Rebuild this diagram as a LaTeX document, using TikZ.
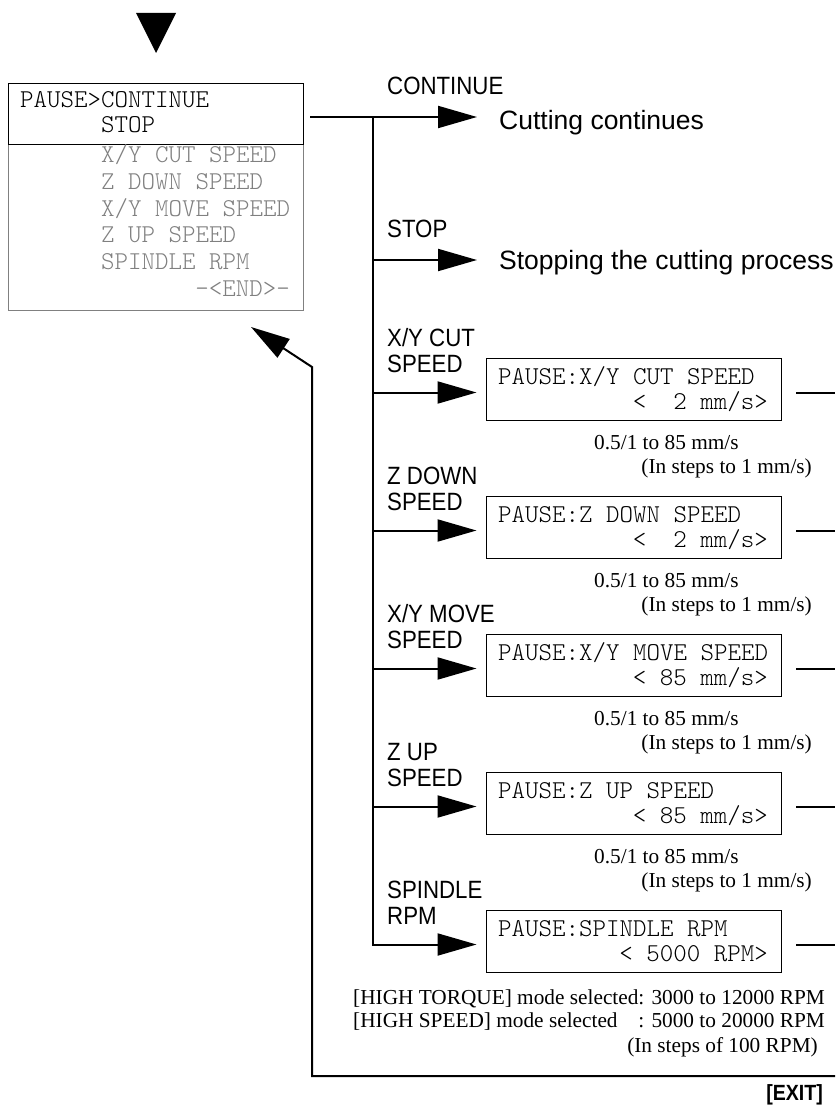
\documentclass[tikz,border=0pt]{standalone}
\usepackage{fontspec}
\setmainfont{Liberation Serif}
\setsansfont{Liberation Sans}
\newfontfamily\keyfont{Liberation Sans}[FakeStretch=0.89]
\usetikzlibrary{arrows.meta, positioning, calc}

\definecolor{lcdgray}{gray}{0.5}
\newcommand{\lcdfont}{\ttfamily\fontseries{l}\fontsize{25.7}{26.6}\selectfont}

\tikzset{
  lcd/.style={draw, line width=1pt, anchor=north west, minimum width=295pt, minimum height=62pt, inner sep=0pt},
  lcdtxt/.style={font=\lcdfont, anchor=base west, inner sep=0pt},
  keylbl/.style={font=\keyfont\fontsize{25}{26}\selectfont, align=left, anchor=base west, inner sep=0pt},
  result/.style={font=\sffamily\fontsize{26.5}{30}\selectfont, anchor=base west, inner sep=0pt},
  note/.style={font=\fontsize{21.3}{23}\selectfont, anchor=base west, inner sep=0pt},
  feed/.style={line width=2pt},
  branch/.style={feed, -{Triangle[length=39pt,width=22pt]}},
}

\begin{document}
\begin{tikzpicture}[x=1pt, y=-1pt, line join=miter]
  \useasboundingbox (0,0) rectangle (835,1110);

  % entry marker
  \fill (136,13) -- (176,13) -- (156,53) -- cycle;

  % ---------- pause menu ----------
  \node[lcd, draw=lcdgray, minimum height=166pt] (menulist) at (8,144) {};
  \node[lcd, minimum height=61pt] (menutop) at (8,83) {};
  \node[lcdtxt] (mcont) at (20,108) {PAUSE>CONTINUE};
  \node[lcdtxt] (mstop) at (101,133) {STOP};
  \foreach \j/\entry in {0/{X/Y CUT SPEED}, 1/{Z DOWN SPEED}, 2/{X/Y MOVE SPEED}, 3/{Z UP SPEED}, 4/{SPINDLE RPM}}
    \node[lcdtxt, text=lcdgray] (mi\j) at (101,{163+26.6*\j}) {\entry};
  \node[lcdtxt, text=lcdgray, anchor=base east] (mend) at (290,296) {-<END>-};

  % ---------- trunk ----------
  \coordinate (tr0) at (373,117);
  \coordinate (jstop) at (373,260);
  \coordinate (exitR) at (835,1076);
  \coordinate (bend) at (312,367);
  \coordinate (tipR) at (251,327);

  \node[keylbl] (kcont) at (387,95) {CONTINUE};
  \node[result] (cont) at (499,130) {Cutting continues};
  \node[keylbl] (kstop) at (387,237) {STOP};
  \node[result] (stop) at (499,269) {Stopping the cutting process};

  \draw[feed] ($(menutop.east |- tr0)+(6,0)$) -- (tr0);
  \draw[branch, shorten >=22pt] (tr0) -- (tr0 -| cont.west);
  \draw[branch, shorten >=22pt] (jstop) -- (jstop -| stop.west);

  % ---------- speed settings ----------
  \foreach \i/\keyA/\title/\val [evaluate=\i as \t using int(220+138*\i)] in
    {1/{X/Y CUT}/{X/Y CUT SPEED}/{<~~2~mm/s>},
     2/{Z DOWN}/{Z DOWN SPEED}/{<~~2~mm/s>},
     3/{X/Y MOVE}/{X/Y MOVE SPEED}/{<~85~mm/s>},
     4/{Z UP}/{Z UP SPEED}/{<~85~mm/s>}}{
    \node[lcd] (box\i) at (486,\t) {};
    \node[lcdtxt] (ttl\i) at (498,{\t+26}) {PAUSE:\title};
    \node[lcdtxt, anchor=base east] (val\i) at (768,{\t+51}) {\val};
    \node[keylbl] (key\i) at (387,{\t+14}) {\keyA\\SPEED};
    \node[note] (rng\i) at (594,{\t+91}) {0.5/1 to 85 mm/s};
    \node[note, anchor=base east] (stp\i) at (812,{\t+115}) {(In steps to 1 mm/s)};
    \coordinate (in\i) at ([yshift=-3pt]box\i.west);
    \coordinate (out\i) at ([yshift=-3pt]box\i.east);
    \draw[branch, shorten >=9.5pt] (in\i -| tr0) -- (in\i);
    \draw[feed] ([xshift=14pt]out\i) -- (out\i -| exitR);
  }

  % ---------- spindle ----------
  \node[lcd] (box5) at (486,910) {};
  \node[lcdtxt] (ttl5) at (498,936) {PAUSE:SPINDLE RPM};
  \node[lcdtxt, anchor=base east] (val5) at (768,961) {<~5000~RPM>};
  \node[keylbl] (key5) at (387,924) {SPINDLE\\RPM};
  \coordinate (in5) at ([yshift=-3pt]box5.west);
  \coordinate (out5) at ([yshift=-3pt]box5.east);
  \draw[branch, shorten >=9.5pt] (tr0) |- (in5);
  \draw[feed] ([xshift=14pt]out5) -- (out5 -| exitR);
  \node[note] (rpmnote) at (353,1004) {\begin{tabular}[t]{@{}l@{}l@{}}
      {[HIGH TORQUE] mode selected}&: 3000 to 12000 RPM\\
      {[HIGH SPEED] mode selected}&: 5000 to 20000 RPM
    \end{tabular}};
  \node[note, anchor=base east] (rpmstep) at (818,1052) {(In steps of 100 RPM)};

  % ---------- exit back to menu ----------
  \draw[branch] (exitR) -| (bend) -- (tipR);
  \node[keylbl, font=\keyfont\bfseries\fontsize{22}{24}\selectfont, anchor=base east] (exit) at (823,1100) {[EXIT]};
\end{tikzpicture}
\end{document}
